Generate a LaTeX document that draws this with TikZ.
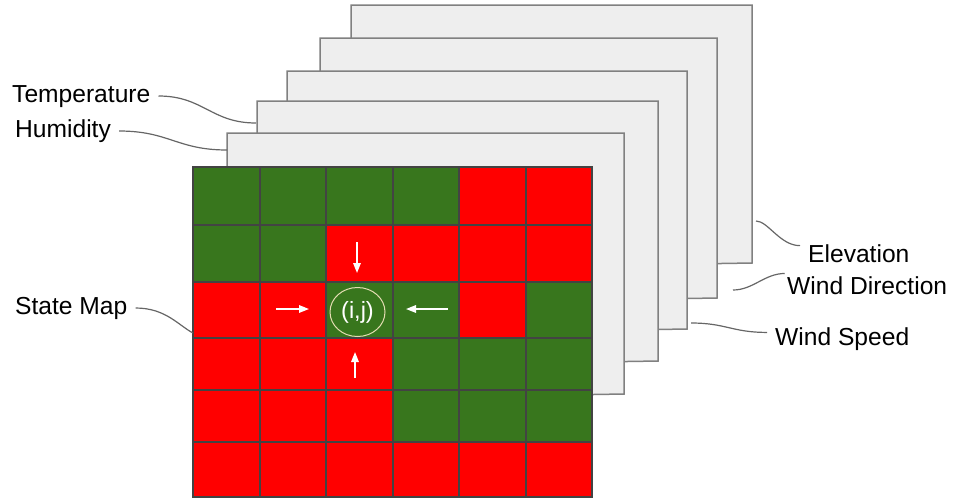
\documentclass[tikz,border=0pt]{standalone}
\usepackage{fontspec}
\setmainfont{Liberation Sans}
\definecolor{mapgreen}{RGB}{56,118,29}
\definecolor{mapred}{RGB}{255,0,0}
\definecolor{gridgray}{RGB}{67,67,67}
\definecolor{sheetfill}{RGB}{238,238,238}
\definecolor{sheetline}{RGB}{128,128,128}
\definecolor{leadgray}{RGB}{102,102,102}
\definecolor{ringbeige}{RGB}{228,220,178}
\usetikzlibrary{arrows.meta,shapes.geometric}

\begin{document}
\begin{tikzpicture}[
  x=1pt,y=-1pt,
  every node/.style={font=\fontsize{24.6}{29}\selectfont},
  sheet/.style={draw=sheetline,fill=sheetfill,line width=1.5pt},
  cellg/.style={fill=mapgreen,draw=gridgray,line width=2pt},
  cellr/.style={fill=mapred,draw=gridgray,line width=2pt},
  layerlabel/.style={inner xsep=8pt,text height=17pt,text depth=5pt,anchor=base west},
  leader/.style={draw=leadgray,line width=1.2pt},
  flow/.style={-{Triangle[length=10pt,width=7.5pt]},white,line width=1.6pt},
]
  \useasboundingbox (0,0) rectangle (953,499);

  % Layer sheets, back to front
  \foreach \l/\t/\r/\b in {351/5/752/263, 320/38/717/298, 287/71/687/329,
                           257/101/658/361, 227/133/624/394}
    \draw[sheet] (\l,{\b+6}) -- (\l,\t) -- (\r,\t) -- (\r,\b)
      .. controls ({\r-120},{\b+2}) and ({\l+120},{\b+4}) .. cycle;

  % State map grid
  \foreach \top/\bot/\cols in {167/225/{g,g,g,g,r,r}, 225/282/{g,g,r,r,r,r},
                               282/338/{r,r,g,g,r,g}, 338/390/{r,r,r,g,g,g},
                               390/442/{r,r,r,g,g,g}, 442/497/{r,r,r,r,r,r}}
    \foreach \c [count=\k from 0] in \cols
      \path[cell\c] ({193+66.5*\k},\top) rectangle ({193+66.5*(\k+1)},\bot);

  % Cell (i,j) and its neighbours
  \node[ellipse,draw=ringbeige,line width=1pt,minimum width=55pt,minimum height=49pt,
        inner sep=0pt,text=white,font=\fontsize{23.5}{28}\selectfont] (ij) at (357.5,312) {(i,j)};

  \coordinate (northA) at (357,242);
  \coordinate (northB) at (357,273);
  \coordinate (westA) at (276,309);
  \coordinate (westB) at (309,309);
  \coordinate (eastA) at (448,309);
  \coordinate (eastB) at (406,309);
  \coordinate (southA) at (355,378);
  \coordinate (southB) at (355,352);
  \draw[flow] (northA) -- (northB);
  \draw[flow] (westA) -- (westB);
  \draw[flow] (eastA) -- (eastB);
  \draw[flow] (southA) -- (southB);

  % Labels
  \node[layerlabel] (temp) at (4,102) {Temperature};
  \node[layerlabel] (hum) at (7,137) {Humidity};
  \node[layerlabel] (state) at (7,314) {State Map};
  \node[layerlabel] (elev) at (800,262) {Elevation};
  \node[layerlabel] (wdir) at (779,294) {Wind Direction};
  \node[layerlabel] (wspeed) at (767,345) {Wind Speed};

  % Leader lines
  \coordinate (tempTip) at (256,123);
  \coordinate (humTip) at (227,150);
  \coordinate (stateTip) at (193,333);
  \coordinate (elevTip) at (756,221);
  \coordinate (wdirTip) at (733,290);
  \coordinate (wspeedTip) at (691,323);
  \draw[leader] (temp.east) .. controls +(45,0) and +(-45,0) .. (tempTip);
  \draw[leader] (hum.east) .. controls +(50,0) and +(-50,0) .. (humTip);
  \draw[leader] (state.east) .. controls +(30,0) and +(-15,-8) .. (stateTip);
  \draw[leader] (elevTip) .. controls +(12,0) and +(-20,0) .. (elev.170);
  \draw[leader] (wdirTip) .. controls +(20,0) and +(-20,0) .. (wdir.170);
  \draw[leader] (wspeedTip) .. controls +(35,0) and +(-35,0) .. (wspeed.175);
\end{tikzpicture}
\end{document}
